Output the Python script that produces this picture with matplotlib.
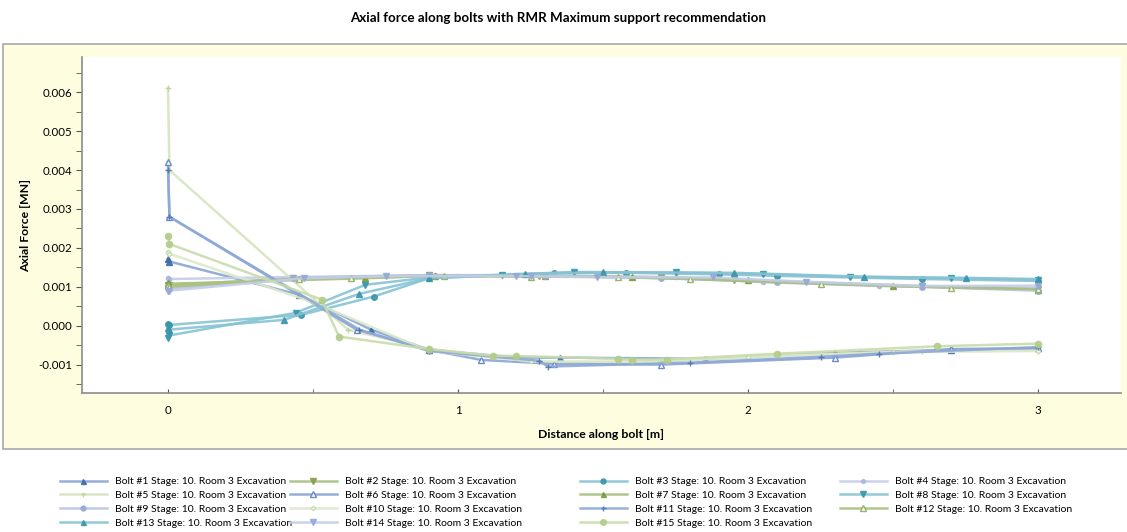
import matplotlib.pyplot as plt
from matplotlib.patches import Rectangle
from matplotlib.ticker import MultipleLocator

plt.rcParams["font.family"] = ["Lato", "DejaVu Sans"]

# distance along bolt [m] and axial force [MN] for each bolt
bolt_ids = list(range(1, 16))
stage = "Stage: 10. Room 3 Excavation"

x1 = [0, 0.005, 0.45, 0.7, 0.9, 1.2, 1.35, 1.85, 2.3, 2.7, 3.0]
y1 = [0.00172, 0.00165, 0.0008, -0.0001, -0.00062, -0.00082, -0.00082, -0.00085, -0.0007, -0.00062, -0.00058]
x2 = [0, 0.005, 0.43, 0.9, 1.28, 1.7, 1.95, 2.6, 3.0]
y2 = [0.00105, 0.00104, 0.00122, 0.0013, 0.00128, 0.00125, 0.00118, 0.00102, 0.00094]
x3 = [0, 0.005, 0.46, 0.71, 0.9, 1.33, 1.58, 1.9, 2.1, 2.6, 3.0]
y3 = [0.00005, 0.00002, 0.00028, 0.00075, 0.00122, 0.00135, 0.00136, 0.00132, 0.00128, 0.0012, 0.00115]
x4 = [0, 0.005, 0.42, 0.92, 1.28, 1.75, 2.05, 2.45, 3.0]
y4 = [0.00123, 0.0012, 0.00125, 0.0013, 0.0013, 0.00124, 0.00112, 0.00102, 0.00097]
x5 = [0, 0.005, 0.62, 0.9, 1.3, 1.7, 2.1, 2.6, 3.0]
y5 = [0.0061, 0.0040, -0.0001, -0.0006, -0.00095, -0.00092, -0.00078, -0.00065, -0.00062]
x6 = [0, 0.005, 0.65, 0.9, 1.08, 1.33, 1.7, 2.3, 2.7, 3.0]
y6 = [0.0042, 0.0028, -0.0001, -0.00062, -0.00088, -0.00098, -0.001, -0.00082, -0.0006, -0.00058]
x7 = [0, 0.005, 0.68, 0.92, 1.3, 1.6, 2.0, 2.5, 3.0]
y7 = [0.0011, 0.00108, 0.00122, 0.00128, 0.00127, 0.00125, 0.00117, 0.00102, 0.00093]
x8 = [0, 0.005, 0.44, 0.68, 0.9, 1.15, 1.4, 1.75, 2.05, 2.35, 2.7, 3.0]
y8 = [-0.00032, -0.00025, 0.00033, 0.00105, 0.00124, 0.00131, 0.00138, 0.00137, 0.00133, 0.00126, 0.00122, 0.00118]
x9 = [0, 0.005, 0.43, 0.9, 1.3, 1.7, 2.1, 2.6, 3.0]
y9 = [0.00098, 0.00095, 0.00123, 0.0013, 0.00128, 0.00122, 0.00112, 0.001, 0.0009]
x10 = [0, 0.005, 0.5, 0.9, 1.25, 1.55, 2.0, 2.5, 3.0]
y10 = [0.0019, 0.00185, 0.0006, -0.00065, -0.00092, -0.00092, -0.0008, -0.00068, -0.00065]
x11 = [0, 0.005, 0.66, 0.9, 1.28, 1.31, 1.8, 2.25, 2.45, 3.0]
y11 = [0.0040, 0.0028, -0.0001, -0.00065, -0.0009, -0.00105, -0.00095, -0.0008, -0.00072, -0.00055]
x12 = [0, 0.005, 0.45, 0.63, 0.95, 1.25, 1.55, 1.8, 2.25, 2.7, 3.0]
y12 = [0.00105, 0.001, 0.00121, 0.00123, 0.00128, 0.00126, 0.00125, 0.0012, 0.00108, 0.00098, 0.00094]
x13 = [0, 0.005, 0.4, 0.66, 0.9, 1.23, 1.5, 1.95, 2.4, 2.75, 3.0]
y13 = [-0.00005, -0.0001, 0.00015, 0.00082, 0.00122, 0.00133, 0.00137, 0.00136, 0.00126, 0.00123, 0.0012]
x14 = [0, 0.005, 0.47, 0.75, 1.2, 1.25, 1.48, 1.88, 2.2, 2.6, 3.0]
y14 = [0.00088, 0.0009, 0.00122, 0.00127, 0.00128, 0.00127, 0.00125, 0.00124, 0.00113, 0.00102, 0.00103]
x15 = [0, 0.005, 0.53, 0.59, 0.9, 1.12, 1.2, 1.55, 1.6, 1.72, 2.1, 2.65, 3.0]
y15 = [0.0023, 0.0021, 0.00067, -0.00028, -0.0006, -0.00077, -0.00078, -0.00085, -0.00087, -0.00087, -0.00072, -0.00053, -0.00046]

xs = [x1, x2, x3, x4, x5, x6, x7, x8, x9, x10, x11, x12, x13, x14, x15]
ys = [y1, y2, y3, y4, y5, y6, y7, y8, y9, y10, y11, y12, y13, y14, y15]

# (line colour, marker colour, marker, filled, marker size)
styles = [
    ("#8aa5d3", "#3f6caa", "^", True, 4),
    ("#a9c07f", "#849e4e", "v", True, 4.5),
    ("#86c3d2", "#3b96ab", "o", True, 4),
    ("#c3cde8", "#aab8dd", "o", True, 3),
    ("#d6e4c0", "#bcd39c", "+", True, 4),
    ("#8aa5d3", "#5d82bd", "^", False, 4.5),
    ("#a9c07f", "#7d9a46", "^", True, 4),
    ("#86c3d2", "#3b96ab", "v", True, 4.5),
    ("#b9c4e4", "#98a9d8", "o", True, 4),
    ("#dce8ca", "#c4d8a8", "D", False, 2.5),
    ("#8ea9d6", "#4d74b2", "+", True, 4),
    ("#a9c07f", "#8fab5e", "^", False, 4.5),
    ("#86c3d2", "#3b96ab", "^", True, 4),
    ("#c3cde8", "#98a9d8", "v", True, 4.5),
    ("#c8dcab", "#b3cd8b", "o", True, 4.5),
]

fig = plt.figure(figsize=(11.27, 5.32), dpi=100)

# pale yellow chart panel behind the axes
fig.patches.append(Rectangle((3 / 1127, 83 / 532), 1.0, 405 / 532,
                             transform=fig.transFigure, facecolor="#fffde0",
                             edgecolor="#a8a8a8", lw=1.2, zorder=-10))

ax = fig.add_axes([82 / 1127, 1 - 393 / 532, (1121 - 82) / 1127, (393 - 57) / 532])
ax.set_facecolor("white")

handles = []
for i, (x, y) in enumerate(zip(xs, ys)):
    lc, mc, mk, filled, ms = styles[i]
    h, = ax.plot(x, y, color=lc, lw=1.8, alpha=0.9, marker=mk, ms=ms,
                 markerfacecolor=mc if filled else "white",
                 markeredgecolor=mc, markeredgewidth=1.0,
                 label=f"Bolt #{bolt_ids[i]} {stage}")
    handles.append(h)

ax.set_xlim(-0.2966, 3.286)
ax.set_ylim(-0.00173, 0.006907)
ax.xaxis.set_major_locator(MultipleLocator(1))
ax.xaxis.set_minor_locator(MultipleLocator(0.5))
ax.yaxis.set_major_locator(MultipleLocator(0.001))
ax.yaxis.set_minor_locator(MultipleLocator(0.0005))
ax.yaxis.set_major_formatter(plt.FuncFormatter(lambda v, p: f"{v:.3f}"))

for s in ["top", "right"]:
    ax.spines[s].set_visible(False)
for s in ["left", "bottom"]:
    ax.spines[s].set_color("#8c8c8c")
    ax.spines[s].set_linewidth(1.2)

ax.tick_params(axis="y", which="both", direction="out", length=4, color="#555555",
               labelsize=8.3, pad=3)
ax.tick_params(axis="x", which="both", direction="in", length=3, color="#555555",
               labelsize=8.3, pad=9)

ax.set_xlabel("Distance along bolt [m]", fontsize=8.8, fontweight="bold", labelpad=9)
ax.set_ylabel("Axial Force [MN]", fontsize=8.8, fontweight="bold", labelpad=5)

fig.text(558 / 1127, 1 - 18 / 532, "Axial force along bolts with RMR Maximum support recommendation",
         ha="center", va="center", fontsize=9.6, fontweight="bold")

# legend in four columns, filled row by row
col_x = [60, 290, 580, 840]
for c in range(4):
    hs = handles[c::4]
    fig.legend(handles=hs, loc="upper left",
               bbox_to_anchor=(col_x[c] / 1127, 1 - 477 / 532),
               frameon=False, fontsize=7.5, handlelength=4.5,
               handletextpad=0.8, labelspacing=0.43, borderpad=0,
               borderaxespad=0, markerscale=0.9)

fig.savefig("out.png", dpi=100)
